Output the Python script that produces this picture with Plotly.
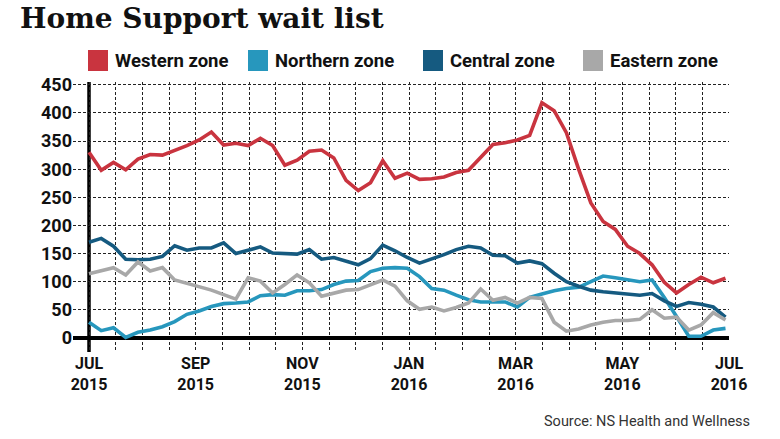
import pandas as pd
import plotly.graph_objects as go

# ---------------- data (weekly) ----------------
start_date = "2015-07-01"
n_weeks = 53

western = [330, 298, 312, 299, 318, 326, 325, 333, 342, 352, 366, 343, 346, 342, 355, 342,
           307, 316, 332, 334, 320, 280, 262, 276, 315, 284, 293, 282, 283, 286, 294, 298,
           322, 344, 347, 352, 360, 418, 404, 365, 300, 240, 207, 193, 163, 150, 130, 99,
           80, 95, 108, 98, 106]
northern = [28, 13, 18, 1, 10, 14, 20, 29, 42, 48, 56, 61, 62, 64, 75, 77, 76, 84, 84, 86,
            95, 101, 102, 118, 124, 125, 124, 109, 88, 85, 76, 68, 64, 64, 64, 55, 72, 78,
            84, 88, 90, 100, 110, 107, 104, 100, 103, 72, 38, 3, 3, 14, 17]
central = [170, 177, 163, 140, 139, 140, 145, 164, 156, 160, 160, 169, 150, 156, 162, 151,
           150, 149, 157, 140, 143, 136, 130, 141, 165, 155, 143, 133, 140, 148, 157, 163,
           160, 147, 146, 133, 137, 132, 115, 100, 92, 85, 82, 80, 78, 76, 79, 66, 56, 63,
           60, 55, 37]
eastern = [114, 120, 125, 112, 135, 119, 125, 103, 97, 91, 85, 77, 69, 107, 101, 80, 95, 112,
           98, 74, 80, 85, 86, 94, 103, 92, 66, 51, 55, 48, 54, 62, 87, 67, 72, 62, 72, 70,
           28, 12, 16, 23, 28, 31, 31, 33, 50, 35, 37, 14, 23, 45, 32]

series_names = ["Western zone", "Northern zone", "Central zone", "Eastern zone"]
series_values = [western, northern, central, eastern]
series_colors = ["#C9343F", "#2797BD", "#155A80", "#A8A8A8"]

x_tick_text = ["JUL<br>2015", "SEP<br>2015", "NOV<br>2015", "JAN<br>2016",
               "MAR<br>2016", "MAY<br>2016", "JUL<br>2016"]
y_tick_vals = [0, 50, 100, 150, 200, 250, 300, 350, 400, 450]

title_bold = "Home Support"
title_rest = "wait list"
source_text = "Source: NS Health and Wellness"

# ---------------- layout geometry ----------------
W, H = 780, 439
plot_left, plot_right, plot_top, plot_bottom = 73, 729, 82, 352
axis_px = 89  # pixel position of the date axis start

dates = pd.date_range(start_date, periods=n_weeks, freq="7D")
x_start = pd.Timestamp(start_date)
x_end = pd.Timestamp("2016-07-01")
span_days = (x_end - x_start) / pd.Timedelta(days=1)
px_per_day = (plot_right - axis_px) / span_days
x_range_start = x_start - pd.Timedelta(days=(axis_px - plot_left) / px_per_day)

grid_vals = pd.date_range(x_start, x_end, periods=25)
grid_text = []
for i in range(25):
    grid_text.append(x_tick_text[i // 4] if i % 4 == 0 else "")

fig = go.Figure()
for name, vals, col in zip(series_names, series_values, series_colors):
    fig.add_trace(go.Scatter(x=dates, y=vals, mode="lines", name=name,
                             line=dict(color=col, width=3.6), showlegend=False))


def px_x(px):
    return (px - plot_left) / (plot_right - plot_left)


def px_y(py):
    return (plot_bottom - py) / (plot_bottom - plot_top)


shapes = [dict(type="line", xref="x", yref="paper", x0=x_start, x1=x_start, y0=0, y1=1,
               line=dict(color="black", width=3.5), layer="between")]
annotations = []
legend_pos = [88, 248, 423, 583]
for name, col, lx in zip(series_names, series_colors, legend_pos):
    shapes.append(dict(type="rect", xref="paper", yref="paper",
                       x0=px_x(lx), x1=px_x(lx + 20), y0=px_y(71), y1=px_y(50),
                       fillcolor=col, line=dict(width=0)))
    annotations.append(dict(text=name, xref="paper", yref="paper", x=px_x(lx + 25),
                            y=px_y(61), xanchor="left", yanchor="middle", showarrow=False,
                            font=dict(family="Roboto", size=18.5, color="#111", weight="bold")))

annotations.append(dict(text=source_text, xref="paper", yref="paper", x=px_x(752),
                        y=px_y(421), xanchor="right", yanchor="middle", showarrow=False,
                        font=dict(family="Roboto", size=14.5, color="#333")))

fig.update_layout(
    width=W, height=H,
    margin=dict(l=plot_left, r=W - plot_right, t=plot_top, b=H - plot_bottom),
    paper_bgcolor="white", plot_bgcolor="white",
    title=dict(text=f"<b>{title_bold}</b> {title_rest}", xref="container", yref="container",
               x=20 / W, y=1 - 8 / H, xanchor="left", yanchor="top",
               font=dict(family="DejaVu Serif", size=28, color="#111", weight="bold")),
    shapes=shapes, annotations=annotations,
    xaxis=dict(type="date", range=[x_range_start, x_end], tickvals=grid_vals,
               ticktext=grid_text, showgrid=True, gridcolor="#222", gridwidth=1,
               griddash="3px,2px", showline=False, ticks="", zeroline=False,
               tickfont=dict(family="Roboto", size=16, color="#111", weight="bold")),
    yaxis=dict(range=[-25, 455], tickvals=y_tick_vals, showgrid=True, gridcolor="#222",
               gridwidth=1, griddash="3px,2px", zeroline=True, zerolinecolor="black",
               zerolinewidth=3.5, showline=False, ticks="",
               tickfont=dict(family="Roboto", size=18, color="#111", weight="bold")),
)

fig.write_html("out.html", config={"displayModeBar": False},
               post_script="document.body.style.margin='0';document.body.style.overflow='hidden';")
